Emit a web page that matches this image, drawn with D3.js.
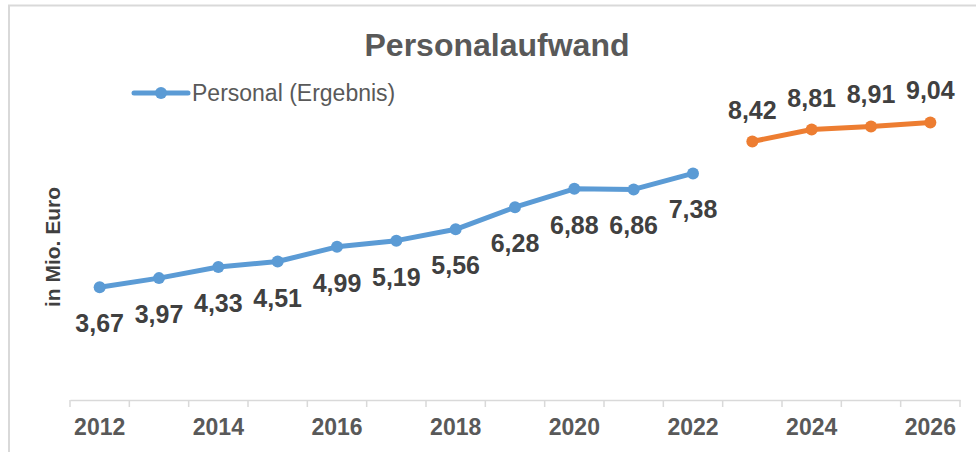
<!DOCTYPE html>
<html><head><meta charset="utf-8">
<script src="https://cdn.jsdelivr.net/npm/d3@7"></script>
<style>body{margin:0;background:#fff}svg{display:block}</style>
</head><body>
<svg id="c" width="976" height="452"></svg>
<script>
const years = ["2012","2013","2014","2015","2016","2017","2018","2019","2020","2021","2022","2023","2024","2025","2026"];
const tickLabels = ["2012","2014","2016","2018","2020","2022","2024","2026"];
const actualYears = ["2012","2013","2014","2015","2016","2017","2018","2019","2020","2021","2022"];
const actualValues = [3.67,3.97,4.33,4.51,4.99,5.19,5.56,6.28,6.88,6.86,7.38];
const planYears = ["2023","2024","2025","2026"];
const planValues = [8.42,8.81,8.91,9.04];

const svg = d3.select("#c");
const font = "'Liberation Sans', Arial, sans-serif";
svg.append("rect").attr("x",9).attr("y",5.5).attr("width",1000).attr("height",500)
  .attr("fill","none").attr("stroke","#d9d9d9").attr("stroke-width",2);

const x = d3.scaleBand().domain(years).range([70,960]);
const y = d3.scaleLinear().domain([0,10]).range([400,93]);

// axis
const ax = svg.append("g").attr("transform","translate(0,400)")
  .call(d3.axisBottom(x).tickSize(0).tickPadding(0).tickFormat(d => tickLabels.includes(d) ? d : ""));
ax.select(".domain").attr("stroke","#d9d9d9").attr("stroke-width",1.5);
ax.selectAll(".tick text")
  .style("font-family",font).style("font-size","23px").style("font-weight","bold")
  .style("fill","#595959").attr("dy",null).attr("y",35);
ax.selectAll(".tick line").remove();
const bounds = years.map(d=>x(d)).concat([x.range()[1]]);
svg.append("g").selectAll("line").data(bounds).join("line")
  .attr("x1",d=>d).attr("x2",d=>d).attr("y1",400).attr("y2",407)
  .attr("stroke","#d9d9d9").attr("stroke-width",1.5);

const cx = d => x(d)+x.bandwidth()/2;
const line = d3.line().x(d=>cx(d[0])).y(d=>y(d[1]));
const act = actualYears.map((d,i)=>[d,actualValues[i]]);
const pln = planYears.map((d,i)=>[d,planValues[i]]);

function series(data,color,below){
  svg.append("path").datum(data).attr("d",line).attr("fill","none")
    .attr("stroke",color).attr("stroke-width",5).attr("stroke-linejoin","round");
  svg.append("g").selectAll("circle").data(data).join("circle")
    .attr("cx",d=>cx(d[0])).attr("cy",d=>y(d[1])).attr("r",6).attr("fill",color);
  svg.append("g").selectAll("text").data(data).join("text")
    .attr("x",d=>cx(d[0])).attr("y",d=>y(d[1]) + (below?45:-23))
    .attr("text-anchor","middle").attr("font-family",font).attr("font-size",25)
    .attr("font-weight","bold").attr("fill","#404040")
    .text(d=>d[1].toFixed(2).replace(".",","));
}
series(act,"#5b9bd5",true);
series(pln,"#ed7d31",false);

// title
svg.append("text").attr("x",497).attr("y",56).attr("text-anchor","middle")
  .attr("font-family",font).attr("font-size",32).attr("font-weight","bold")
  .attr("fill","#595959").text("Personalaufwand");

// legend
svg.append("line").attr("x1",134).attr("x2",188).attr("y1",93).attr("y2",93)
  .attr("stroke","#5b9bd5").attr("stroke-width",5).attr("stroke-linecap","round");
svg.append("circle").attr("cx",161).attr("cy",93).attr("r",6).attr("fill","#5b9bd5");
svg.append("text").attr("x",192).attr("y",101).attr("font-family",font).attr("font-size",23)
  .attr("fill","#595959").text("Personal (Ergebnis)");

// y title
svg.append("text").attr("transform","translate(60,247) rotate(-90)").attr("text-anchor","middle")
  .attr("font-family",font).attr("font-size",21).attr("font-weight","bold")
  .attr("fill","#404040").text("in Mio. Euro");
</script>
</body></html>
